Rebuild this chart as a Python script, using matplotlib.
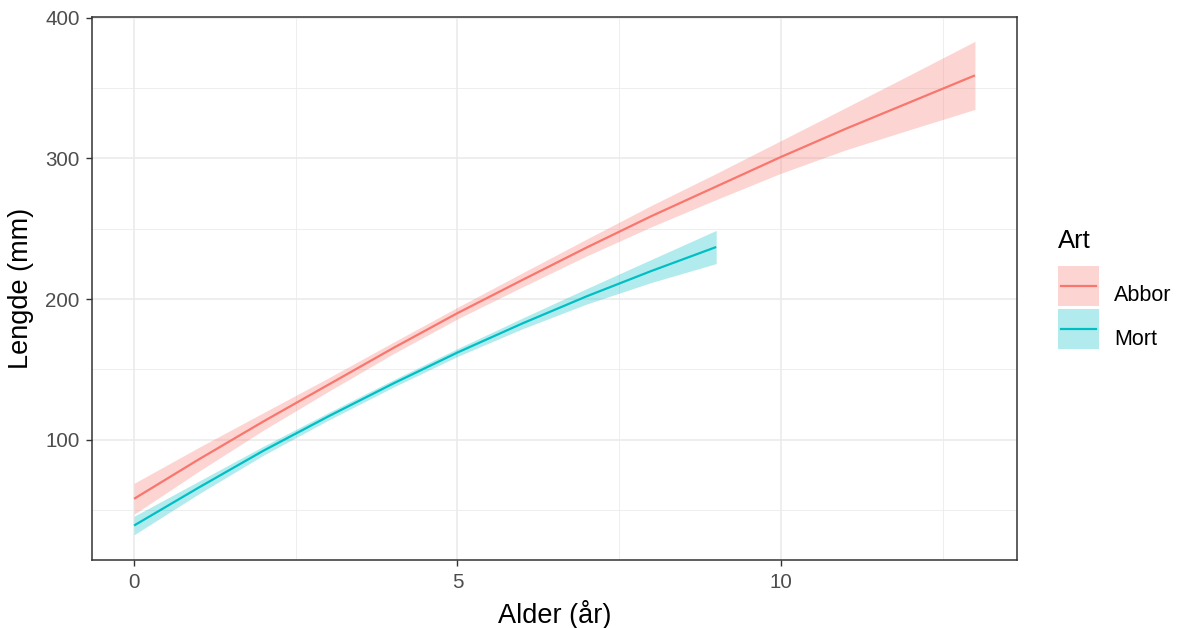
import matplotlib
matplotlib.use("Agg")
import matplotlib.pyplot as plt
from matplotlib.patches import Patch, Rectangle
from matplotlib.lines import Line2D
from matplotlib.ticker import MultipleLocator

plt.rcParams['font.family'] = ['Liberation Sans', 'DejaVu Sans']

# ---- data ----
species = ["Abbor", "Mort"]
colors = ["#F8766D", "#00BFC4"]

abbor_age = [0, 1, 2, 3, 4, 5, 6, 7, 8, 9, 10, 11, 12, 13]
abbor_len = [58, 86, 113, 139, 165, 190, 213.5, 236.7, 259, 280, 301, 321, 340, 359]
abbor_lo = [47, 77.5, 106.8, 134.2, 160.9, 185.9, 208.5, 230.7, 251.4, 270.7, 289.4, 306, 320.5, 334.8]
abbor_hi = [69, 94.5, 119.2, 143.8, 169.1, 194.1, 218.5, 242.7, 266.6, 289.3, 312.6, 336, 359.5, 383.2]

mort_age = [0, 1, 2, 3, 4, 5, 6, 7, 8, 9]
mort_len = [39, 66, 92.2, 116.5, 139.8, 162, 182.6, 202, 220, 237]
mort_lo = [32.4, 61.5, 89.0, 113.8, 137.2, 159.2, 178.8, 196.5, 211.8, 225.2]
mort_hi = [45.6, 70.5, 95.4, 119.2, 142.4, 164.8, 186.4, 207.5, 228.2, 248.8]

x_label = "Alder (år)"
y_label = "Lengde (mm)"
legend_title = "Art"

# ---- figure ----
W, H = 1180, 628
fig = plt.figure(figsize=(W / 100, H / 100), dpi=100)
ax = fig.add_axes([92 / W, 1 - 560 / H, (1017 - 92) / W, (560 - 17) / H])

series = [
    (abbor_age, abbor_len, abbor_lo, abbor_hi),
    (mort_age, mort_len, mort_lo, mort_hi),
]
ribbon_alpha = 0.3
for (a, v, lo, hi), c in zip(series, colors):
    ax.fill_between(a, lo, hi, color=c, alpha=ribbon_alpha, linewidth=0, zorder=2)
for (a, v, lo, hi), c in zip(series, colors):
    ax.plot(a, v, color=c, lw=1.6, zorder=3, solid_capstyle='butt')

ax.set_xlim(-0.65, 13.65)
ax.set_ylim(14.5, 400.5)
ax.xaxis.set_major_locator(MultipleLocator(5))
ax.xaxis.set_minor_locator(MultipleLocator(2.5))
ax.yaxis.set_major_locator(MultipleLocator(100))
ax.yaxis.set_minor_locator(MultipleLocator(50))

ax.grid(which='major', color='#EBEBEB', lw=1.2, zorder=0)
ax.grid(which='minor', color='#EBEBEB', lw=0.6, zorder=0)
ax.set_axisbelow(True)

for s in ax.spines.values():
    s.set_color('#333333')
    s.set_linewidth(1.1)

ax.tick_params(which='major', length=4.5, width=1.0, color='#333333',
               labelsize=14.8, labelcolor='#4D4D4D', pad=4.5)
ax.tick_params(which='minor', length=0)

ax.set_xlabel(x_label, fontsize=19.5, color='black', labelpad=6)
ax.set_ylabel(y_label, fontsize=19.5, color='black', labelpad=8)


# legend key: ribbon square with line through its centre (ggplot style)
class KeyHandler:
    def __init__(self, color):
        self.color = color

    def legend_artist(self, legend, orig_handle, fontsize, handlebox):
        x0 = -handlebox.xdescent
        w = handlebox.width
        key_h = 28.8      # points (40 px)
        y_bottom = -3.2   # points below text baseline
        rect = Rectangle((x0, y_bottom), w, key_h, facecolor=self.color,
                         alpha=ribbon_alpha, edgecolor='none')
        inset = 1.8
        yc = y_bottom + key_h / 2
        line = Line2D([x0 + inset, x0 + w - inset], [yc, yc],
                      color=self.color, lw=1.6)
        handlebox.add_artist(rect)
        handlebox.add_artist(line)
        return rect


handles = [Patch(facecolor=c) for c in colors]
hmap = {h: KeyHandler(c) for h, c in zip(handles, colors)}
leg = fig.legend(handles, species, handler_map=hmap, loc='upper left',
                 bbox_to_anchor=(1058 / W, 1 - 282.4 / H), borderaxespad=0,
                 frameon=False, fontsize=15.5,
                 handlelength=1.9, handleheight=1.29, handletextpad=0.7,
                 labelspacing=0.9, borderpad=0)
fig.text(1058 / W, 1 - 248.3 / H, legend_title, fontsize=18.5,
         ha='left', va='baseline', color='black')

fig.savefig("out.png", dpi=100, facecolor='white')
